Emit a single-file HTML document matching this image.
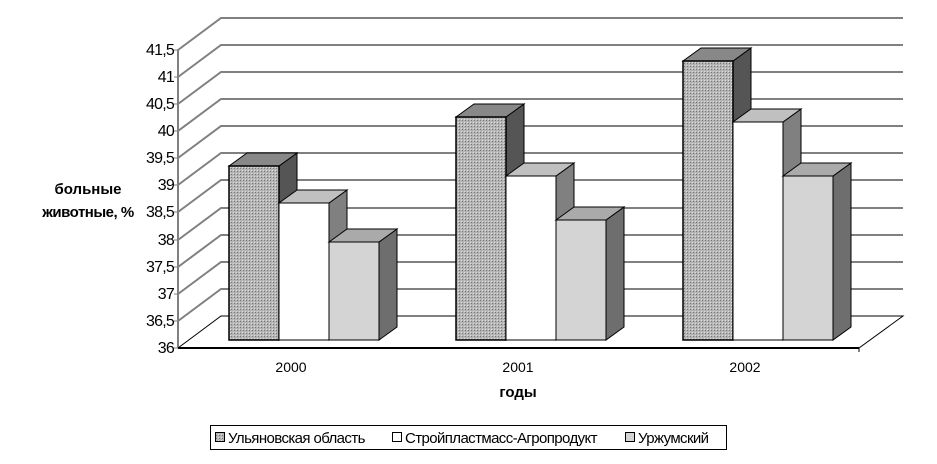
<!DOCTYPE html>
<html><head><meta charset="utf-8"><style>
body{margin:0;background:#fff}
svg{display:block}
text{font-family:"Liberation Sans","DejaVu Sans",sans-serif;fill:#000}
</style></head><body>
<svg width="937" height="464" viewBox="0 0 937 464">
<defs>
<pattern id="dots" width="3" height="3" patternUnits="userSpaceOnUse">
<rect width="3" height="3" fill="#b4b4b4"/><rect width="1" height="1" fill="#777"/><rect x="2" y="2" width="1" height="1" fill="#e0e0e0"/>
</pattern>
</defs>
<g stroke="#808080" stroke-width="2" fill="none">
<path d="M178 50 L221 18 L903 18"/>
<path d="M178 77 L221 45 L903 45"/>
<path d="M178 104 L221 72 L903 72"/>
<path d="M178 131 L221 99 L903 99"/>
<path d="M178 158 L221 126 L903 126"/>
<path d="M178 185 L221 153 L903 153"/>
<path d="M178 212 L221 180 L903 180"/>
<path d="M178 240 L221 208 L903 208"/>
<path d="M178 267 L221 235 L903 235"/>
<path d="M178 294 L221 262 L903 262"/>
<path d="M178 321 L221 289 L903 289"/>
<line x1="178" y1="50" x2="178" y2="348"/>
</g>
<g stroke="#000" stroke-width="1" fill="none">
<path d="M178 348 L221 316 L903 316 L859 348 Z"/>
<line x1="178" y1="348" x2="859" y2="348" stroke-width="2"/>
<line x1="859" y1="348" x2="859" y2="352"/>
</g>
<g stroke="#808080" stroke-width="1">
<line x1="174" y1="50" x2="178" y2="50"/><line x1="174" y1="77" x2="178" y2="77"/><line x1="174" y1="104" x2="178" y2="104"/><line x1="174" y1="131" x2="178" y2="131"/><line x1="174" y1="158" x2="178" y2="158"/><line x1="174" y1="185" x2="178" y2="185"/><line x1="174" y1="212" x2="178" y2="212"/><line x1="174" y1="240" x2="178" y2="240"/><line x1="174" y1="267" x2="178" y2="267"/><line x1="174" y1="294" x2="178" y2="294"/><line x1="174" y1="321" x2="178" y2="321"/><line x1="174" y1="348" x2="178" y2="348"/>
</g>
<g font-size="16" text-anchor="end" letter-spacing="-0.8">
<text x="174" y="55">41,5</text><text x="174" y="82">41</text><text x="174" y="109">40,5</text><text x="174" y="136">40</text><text x="174" y="163">39,5</text><text x="174" y="190">39</text><text x="174" y="217">38,5</text><text x="174" y="245">38</text><text x="174" y="272">37,5</text><text x="174" y="299">37</text><text x="174" y="326">36,5</text><text x="174" y="353">36</text>
</g>
<g stroke="#000" stroke-width="1">
<polygon points="279,166 297,153 297,327 279,340" fill="#555"/>
<polygon points="229,166 247,153 297,153 279,166" fill="#888"/>
<rect x="229" y="166" width="50" height="174" fill="url(#dots)" stroke-width="1.5"/>
<polygon points="329,203 347,190 347,327 329,340" fill="#808080"/>
<polygon points="279,203 297,190 347,190 329,203" fill="#c0c0c0"/>
<rect x="279" y="203" width="50" height="137" fill="#fff"/>
<polygon points="379,242 397,229 397,327 379,340" fill="#6e6e6e"/>
<polygon points="329,242 347,229 397,229 379,242" fill="#aaa"/>
<rect x="329" y="242" width="50" height="98" fill="#d4d4d4"/>
<polygon points="506,117 524,104 524,327 506,340" fill="#555"/>
<polygon points="456,117 474,104 524,104 506,117" fill="#888"/>
<rect x="456" y="117" width="50" height="223" fill="url(#dots)" stroke-width="1.5"/>
<polygon points="556,176 574,163 574,327 556,340" fill="#808080"/>
<polygon points="506,176 524,163 574,163 556,176" fill="#c0c0c0"/>
<rect x="506" y="176" width="50" height="164" fill="#fff"/>
<polygon points="606,220 624,207 624,327 606,340" fill="#6e6e6e"/>
<polygon points="556,220 574,207 624,207 606,220" fill="#aaa"/>
<rect x="556" y="220" width="50" height="120" fill="#d4d4d4"/>
<polygon points="733,61 751,48 751,327 733,340" fill="#555"/>
<polygon points="683,61 701,48 751,48 733,61" fill="#888"/>
<rect x="683" y="61" width="50" height="279" fill="url(#dots)" stroke-width="1.5"/>
<polygon points="783,122 801,109 801,327 783,340" fill="#808080"/>
<polygon points="733,122 751,109 801,109 783,122" fill="#c0c0c0"/>
<rect x="733" y="122" width="50" height="218" fill="#fff"/>
<polygon points="833,176 851,163 851,327 833,340" fill="#6e6e6e"/>
<polygon points="783,176 801,163 851,163 833,176" fill="#aaa"/>
<rect x="783" y="176" width="50" height="164" fill="#d4d4d4"/>
</g>
<g font-size="14" text-anchor="middle">
<text x="291" y="372">2000</text><text x="518" y="372">2001</text><text x="745" y="372">2002</text>
</g>
<text x="518" y="397" font-size="15" font-weight="bold" text-anchor="middle">годы</text>
<text x="88" y="194" font-size="15" font-weight="bold" text-anchor="middle">больные</text>
<text x="88" y="217" font-size="15" font-weight="bold" text-anchor="middle" letter-spacing="-0.5">животные, %</text>
<rect x="210.5" y="425.5" width="516" height="24" fill="#fff" stroke="#000"/>
<g stroke="#000" stroke-width="1">
<rect x="215.5" y="432.5" width="9" height="9" fill="url(#dots)"/>
<rect x="392.5" y="432.5" width="9" height="9" fill="#fff"/>
<rect x="625.5" y="432.5" width="9" height="9" fill="#d4d4d4"/>
</g>
<g font-size="15" letter-spacing="-0.6">
<text x="228" y="443">Ульяновская область</text>
<text x="405" y="443">Стройпластмасс-Агропродукт</text>
<text x="638" y="443">Уржумский</text>
</g>
</svg>
</body></html>
